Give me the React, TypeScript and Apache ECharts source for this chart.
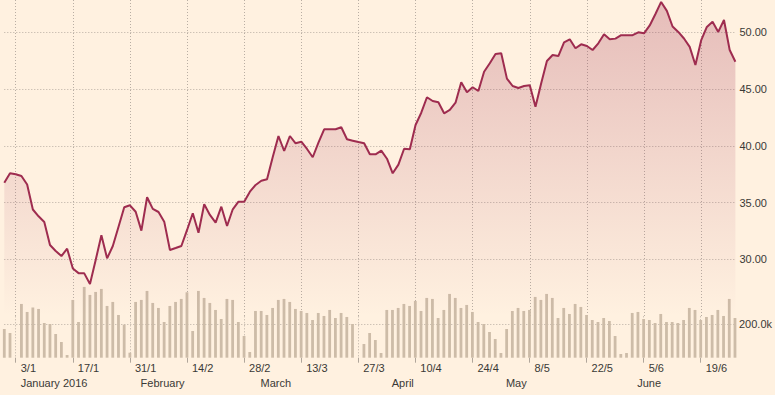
import React, { useEffect, useRef } from 'react';
import * as echarts from 'echarts';

// Trading-day slots from Wed 30 Dec 2015 to Mon 27 Jun 2016 (weekdays)
const startDate = new Date(2015, 11, 30);
const dates: string[] = [];
{
  const d = new Date(startDate.getTime());
  while (dates.length < 129) {
    const wd = d.getDay();
    if (wd !== 0 && wd !== 6) dates.push(`${d.getDate()}/${d.getMonth() + 1}`);
    d.setDate(d.getDate() + 1);
  }
}

const tickIndex = [2, 12, 22, 32, 42, 52, 62, 72, 82, 92, 102, 112, 122];
const tickLabels = ['3/1', '17/1', '31/1', '14/2', '28/2', '13/3', '27/3', '10/4', '24/4', '8/5', '22/5', '5/6', '19/6'];
const monthIndex = [2, 23, 44, 67, 87, 110];
const monthLabels = ['January 2016', 'February', 'March', 'April', 'May', 'June'];

const prices = [
  36.76, 37.59, 37.5, 37.35, 36.6, 34.4, 33.8, 33.3, 31.28, 30.75,
  30.3, 30.95, 29.2, 28.8, 28.78, 27.84, 29.96, 32.13, 30.1, 31.19,
  32.89, 34.6, 34.77, 34.2, 32.54, 35.48, 34.45, 34.18, 33.33, 30.84,
  31.01, 31.19, 32.6, 34.07, 32.36, 34.86, 33.92, 33.24, 34.65, 32.95,
  34.42, 35.09, 35.09, 35.97, 36.56, 36.93, 37.06, 39.02, 40.87, 39.55,
  40.87, 40.23, 40.37, 39.73, 39.0, 40.28, 41.46, 41.46, 41.46, 41.64,
  40.58, 40.46, 40.34, 40.23, 39.26, 39.26, 39.58, 38.87, 37.59, 38.35,
  39.75, 39.7, 41.84, 42.92, 44.28, 43.95, 43.84, 42.87, 43.16, 43.8,
  45.6, 44.72, 45.16, 44.83, 46.53, 47.27, 48.09, 48.15, 45.92, 45.27,
  45.1, 45.27, 45.33, 43.45, 45.51, 47.47, 48.0, 47.91, 49.12, 49.38,
  48.59, 48.94, 48.79, 48.44, 49.03, 49.82, 49.38, 49.44, 49.74, 49.74,
  49.74, 50.0, 49.91, 50.6, 51.61, 52.67, 51.88, 50.51, 50.03, 49.45,
  48.71, 47.12, 49.28, 50.47, 50.93, 50.03, 51.08, 48.44, 47.4,
];

const volumes = [
  172000, 148000, 0, 322000, 274000, 300000, 292000, 208000, 202000, 142000,
  94000, 16000, 346000, 214000, 424000, 376000, 394000, 412000, 310000, 334000,
  256000, 198000, 30000, 334000, 346000, 400000, 328000, 298000, 214000, 310000,
  334000, 352000, 392000, 160000, 400000, 358000, 328000, 286000, 232000, 352000,
  346000, 214000, 130000, 34000, 280000, 280000, 256000, 298000, 346000, 352000,
  334000, 292000, 280000, 268000, 226000, 268000, 250000, 286000, 238000, 268000,
  244000, 202000, 0, 82000, 148000, 106000, 28000, 286000, 286000, 298000,
  322000, 310000, 340000, 280000, 358000, 352000, 238000, 286000, 382000, 358000,
  298000, 316000, 274000, 214000, 202000, 154000, 112000, 28000, 172000, 280000,
  298000, 280000, 286000, 364000, 346000, 382000, 358000, 238000, 298000, 262000,
  322000, 304000, 256000, 226000, 214000, 238000, 220000, 130000, 22000, 28000,
  268000, 274000, 232000, 226000, 208000, 262000, 214000, 214000, 208000, 226000,
  298000, 286000, 226000, 244000, 256000, 286000, 250000, 352000, 238000,
];

const BG = '#fff1e0';
const GRID = '#b9aea3';
const TEXT = '#3a3936';
const FONT = 'Liberation Sans, Arial, sans-serif';

export default function App() {
  const ref = useRef<HTMLDivElement>(null);
  useEffect(() => {
    if (!ref.current) return;
    const chart = echarts.init(ref.current, undefined, { renderer: 'svg' });
    const tickSet = new Set(tickIndex);
    const monthSet = new Set(monthIndex);
    const isTick = (i: number) => tickSet.has(i);
    const isMonth = (i: number) => monthSet.has(i);
    const gridLine = { show: true, interval: isTick, lineStyle: { color: GRID, type: [1, 2], width: 1 } };
    chart.setOption({
      animation: false,
      backgroundColor: BG,
      textStyle: { fontFamily: FONT },
      grid: [
        { left: 4.3, right: 39.6, top: 0, height: 316.3 },
        { left: 4.3, right: 39.6, top: 316.3, height: 41.4 },
      ],
      xAxis: [
        {
          type: 'category', gridIndex: 0, data: dates, boundaryGap: false,
          axisLine: { show: false, onZero: false }, axisTick: { show: false }, axisLabel: { show: false },
          splitLine: gridLine,
        },
        {
          type: 'category', gridIndex: 1, data: dates, boundaryGap: false, position: 'bottom',
          axisLine: { show: false, onZero: false },
          axisTick: { show: true, length: 5, interval: isTick, lineStyle: { color: '#b0a69b' } },
          axisLabel: {
            interval: isTick,
            formatter: (_v: string, i: number) => tickLabels[tickIndex.indexOf(i)] ?? '',
            align: 'left', padding: [0, 0, 0, 5], margin: 5, fontSize: 11, color: TEXT, fontFamily: FONT,
          },
          splitLine: gridLine,
        },
        {
          type: 'category', gridIndex: 1, data: dates, boundaryGap: false, position: 'bottom',
          axisLine: { show: false, onZero: false }, axisTick: { show: false },
          axisLabel: {
            interval: isMonth,
            formatter: (_v: string, i: number) => monthLabels[monthIndex.indexOf(i)] ?? '',
            align: 'left', padding: [0, 0, 0, 5], margin: 20, fontSize: 11, color: TEXT, fontFamily: FONT,
          },
          splitLine: { show: false },
        },
      ],
      yAxis: [
        {
          type: 'value', gridIndex: 0, position: 'right', min: 25, max: 52.84, interval: 5,
          axisLine: { show: false }, axisTick: { show: false },
          splitLine: { show: true, showMinLine: false, showMaxLine: false, lineStyle: { color: GRID, type: [1, 2], width: 1 } },
          axisLabel: {
            formatter: (v: number) => (v >= 30 && v <= 50 && Math.abs(v % 5) < 1e-6 ? v.toFixed(2) : ''),
            margin: 4, fontSize: 11, color: TEXT, fontFamily: FONT,
          },
        },
        {
          type: 'value', gridIndex: 1, position: 'right', min: 0, max: 248000, interval: 200000,
          axisLine: { show: false }, axisTick: { show: false },
          splitLine: { show: true, showMinLine: false, showMaxLine: false, lineStyle: { color: GRID, type: [1, 2], width: 1 } },
          axisLabel: {
            formatter: (v: number) => (v === 200000 ? '200.0k' : ''),
            margin: 4, fontSize: 11, color: TEXT, fontFamily: FONT,
          },
        },
      ],
      series: [
        {
          type: 'line', xAxisIndex: 0, yAxisIndex: 0, data: prices, symbol: 'none',
          lineStyle: { color: '#9e2c4f', width: 2 },
          areaStyle: {
            color: new echarts.graphic.LinearGradient(0, 0, 0, 1, [
              { offset: 0, color: 'rgba(160,45,80,0.38)' },
              { offset: 1, color: 'rgba(160,45,80,0)' },
            ]),
          },
        },
        {
          type: 'bar', xAxisIndex: 1, yAxisIndex: 1, data: volumes, barWidth: 2.8, clip: false,
          itemStyle: { color: '#cdbca8' },
        },
      ],
    });
    return () => chart.dispose();
  }, []);
  return <div ref={ref} style={{ position: 'absolute', left: 0, top: 0, width: 775, height: 395 }} />;
}
